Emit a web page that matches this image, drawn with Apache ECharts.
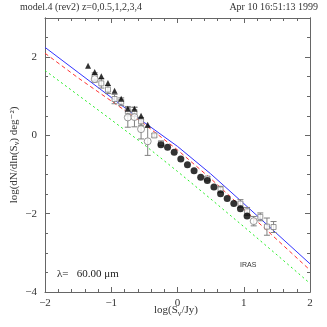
<!DOCTYPE html>
<html>
<head>
<meta charset="utf-8">
<script src="https://cdn.jsdelivr.net/npm/echarts@6/dist/echarts.min.js"></script>
<style>html,body{margin:0;padding:0;background:#fff}#main{width:327px;height:327px}</style>
</head>
<body>
<div id="main"></div>
<script>
// model curves vs log(S/Jy)
let curveX=[-2,-1.5,-1,-0.5,0,0.5,1,1.5,2]
let blueY=[2.25,1.61,0.97,0.33,-0.28,-0.98,-1.74,-2.51,-3.28]
let redY=[2.10,1.47,0.88,0.29,-0.37,-1.10,-1.88,-2.66,-3.44]
let greenY=[1.66,1.03,0.40,-0.24,-0.92,-1.62,-2.33,-3.05,-3.78]

// filled triangles
let triX=[-1.35,-1.25,-1.15,-1.05,-0.95,-0.85,-0.75,-0.65,-0.55,-0.45]
let triY=[1.78,1.62,1.51,1.34,1.14,0.94,0.68,0.68,0.50,0.27]

// open squares with error bars
let sqX=[-1.25,-1.15,-1.05,-0.95,-0.85,-0.75,-0.65,-0.55,-0.35,-0.25,0.45,0.65,0.95,1.05,1.25,1.35,1.45]
let sqY=[1.50,1.33,1.17,0.93,0.86,0.62,0.60,0.36,0.00,-0.20,-1.10,-1.38,-1.74,-1.94,-2.08,-2.33,-2.34]
let sqErr=[0.10,0.12,0.10,0.12,0.10,0.12,0.12,0.10,0.04,0.05,0.05,0.08,0.10,0.10,0.10,0.22,0.14]

// open circles with error bars
let ocX=[-1.25,-0.75,-0.65,-0.55,-0.45,1.15]
let ocY=[1.44,0.46,0.47,0.16,-0.15,-2.19]
let ocErr=[0.08,0.25,0.25,0.25,0.36,0.12]

// filled circles
let fcX=[-0.25,-0.15,-0.05,0.05,0.15,0.25,0.35,0.45,0.55,0.65,0.75,0.85,0.95,1.05]
let fcY=[-0.24,-0.30,-0.43,-0.60,-0.75,-0.90,-1.07,-1.15,-1.32,-1.49,-1.61,-1.74,-1.87,-2.06]

let serif='"Liberation Serif", "DejaVu Serif", serif'

function zip(a,b){
  return a.map(function(v,i){return [v,b[i]]})
}
function errData(xs,ys,es){
  return xs.map(function(v,i){return [v,ys[i]-es[i],ys[i]+es[i]]})
}
function minus(v){
  return String(v).replace('-','\u2212')
}

function errItem(params,api){
  let x=api.value(0)
  let lo=api.coord([x,api.value(1)])
  let hi=api.coord([x,api.value(2)])
  let w=3
  let st={stroke:'#808080',lineWidth:1}
  return {type:'group',children:[
    {type:'line',shape:{x1:hi[0],y1:hi[1],x2:lo[0],y2:lo[1]},style:st},
    {type:'line',shape:{x1:hi[0]-w,y1:hi[1],x2:hi[0]+w,y2:hi[1]},style:st},
    {type:'line',shape:{x1:lo[0]-w,y1:lo[1],x2:lo[0]+w,y2:lo[1]},style:st}
  ]}
}

function yAx(pos,interval,len,labels){
  return {
    type:'value',position:pos,min:-4,max:3,interval:interval,
    axisLine:{show:true,onZero:false,lineStyle:{color:'#666',width:1}},
    axisTick:{show:true,inside:true,length:len,lineStyle:{color:'#666'}},
    axisLabel:{show:labels,margin:8,color:'#333',fontFamily:serif,fontSize:11,
      formatter:function(v){return v==3?'':minus(v)}},
    splitLine:{show:false}
  }
}
function xAx(pos,labels){
  return {
    type:'value',position:pos,min:-2,max:2,interval:1,
    axisLine:{show:true,onZero:false,lineStyle:{color:'#666',width:1}},
    axisTick:{show:true,inside:true,length:5,lineStyle:{color:'#666'}},
    minorTick:{show:true,splitNumber:5,length:3,lineStyle:{color:'#666'}},
    axisLabel:{show:labels,margin:6,color:'#333',fontFamily:serif,fontSize:11,
      formatter:function(v){return minus(v)}},
    splitLine:{show:false}
  }
}

let chart=echarts.init(document.getElementById('main'),null,{renderer:'canvas'})
let option={
  backgroundColor:'#fff',
  animation:false,
  grid:{left:45,right:17,top:18,bottom:35},
  xAxis:[xAx('bottom',true),xAx('top',false)],
  yAxis:[yAx('left',2,5,true),yAx('left',0.5,3,false),yAx('right',2,5,false),yAx('right',0.5,3,false)],
  graphic:[
    {type:'text',left:20,top:2,style:{text:'model.4 (rev2) z=0,0.5,1,2,3,4',font:'10px '+serif,fill:'#333'}},
    {type:'text',right:9,top:2,style:{text:'Apr 10 16:51:13 1999',font:'10px '+serif,fill:'#333'}},
    {type:'text',left:57,top:269,style:{text:'\u03bb=   60.00 \u03bcm',font:'11px '+serif,fill:'#222'}},
    {type:'text',left:240,top:262,style:{text:'IRAS',font:'7px "Liberation Sans", sans-serif',fill:'#333'}},
    {type:'text',left:154,top:305,style:{
      text:'{a|log(S}{s|\u03bd}{a|/Jy)}',
      rich:{a:{fontFamily:serif,fontSize:11,fill:'#333'},s:{fontFamily:serif,fontSize:8,fill:'#333',padding:[6,0,0,0]}}
    }},
    {type:'text',x:14,y:155,rotation:Math.PI/2,style:{
      text:'{a|log(dN/dln(S}{s|\u03bd}{a|) deg\u207b\u00b2)}',
      align:'center',verticalAlign:'middle',
      rich:{a:{fontFamily:serif,fontSize:11,fill:'#333'},s:{fontFamily:serif,fontSize:8,fill:'#333',padding:[6,0,0,0]}}
    }}
  ],
  series:[
    {type:'line',data:zip(curveX,blueY),showSymbol:false,lineStyle:{color:'#3333ff',width:1},z:3},
    {type:'line',data:zip(curveX,redY),showSymbol:false,lineStyle:{color:'#ff3333',width:1,type:[4,3]},z:3},
    {type:'line',data:zip(curveX,greenY),showSymbol:false,lineStyle:{color:'#22ee22',width:1,type:[2,3]},z:3},
    {type:'custom',data:errData(sqX,sqY,sqErr),renderItem:errItem,z:4},
    {type:'custom',data:errData(ocX,ocY,ocErr),renderItem:errItem,z:4},
    {type:'scatter',data:zip(sqX,sqY),symbol:'rect',symbolSize:5,itemStyle:{color:'#fff',borderColor:'#808080',borderWidth:1},z:5},
    {type:'scatter',data:zip(ocX,ocY),symbol:'circle',symbolSize:7,itemStyle:{color:'#fff',borderColor:'#808080',borderWidth:1},z:5},
    {type:'scatter',data:zip(triX,triY),symbol:'triangle',symbolSize:6,itemStyle:{color:'#000'},z:6},
    {type:'scatter',data:zip(fcX,fcY),symbol:'circle',symbolSize:7,itemStyle:{color:'#000'},z:6}
  ]
}
chart.setOption(option)
</script>
</body>
</html>
